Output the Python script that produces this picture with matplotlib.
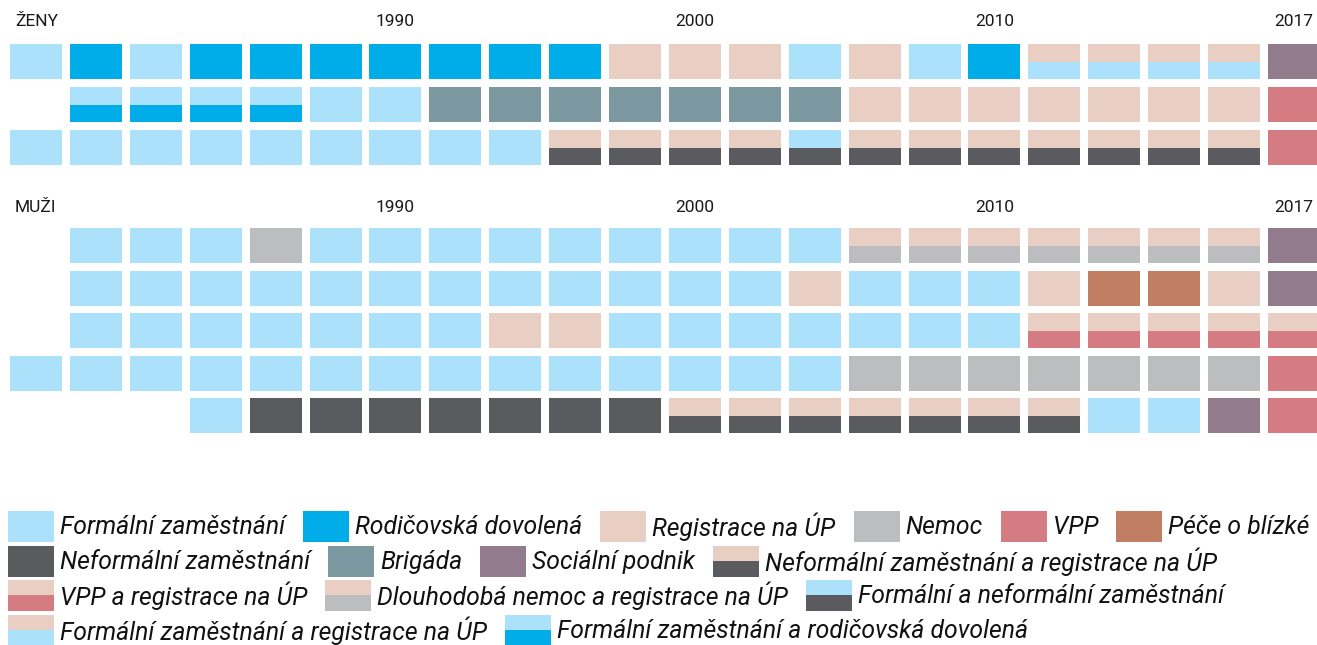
import matplotlib
matplotlib.use("Agg")
import matplotlib.pyplot as plt
from matplotlib.patches import Rectangle

plt.rcParams['font.family'] = ['Roboto', 'DejaVu Sans']

# category colours
colors = {
    'F': '#abe1fa',  # formální zaměstnání
    'R': '#00ade9',  # rodičovská dovolená
    'U': '#e9cfc3',  # registrace na ÚP
    'N': '#bcbdbf',  # nemoc
    'V': '#d47c81',  # VPP
    'P': '#c07f62',  # péče o blízké
    'I': '#5a5b5e',  # neformální zaměstnání
    'B': '#7c98a0',  # brigáda
    'S': '#937b8e',  # sociální podnik
}

# one row per person, one code per period; two letters = top / bottom half
zeny = [
    "F R F R R R R R R R U U U F U F R UF UF UF UF S",
    "- FR FR FR FR F F B B B B B B B U U U U U U U V",
    "F F F F F F F F F UI UI UI UI FI UI UI UI UI UI UI UI V",
]
muzi = [
    "- F F F N F F F F F F F F F UN UN UN UN UN UN UN S",
    "- F F F F F F F F F F F F U F F F U P P U S",
    "- F F F F F F F U U F F F F F F F UV UV UV UV UV",
    "F F F F F F F F F F F F F F N N N N N N N V",
    "- - - F I I I I I I I UI UI UI UI UI UI UI F F S V",
]
year_cols = [6, 11, 16, 21]
year_labels = ['1990', '2000', '2010', '2017']

legend_rows = [
    [('F', 'Formální zaměstnání'), ('R', 'Rodičovská dovolená'),
     ('U', 'Registrace na ÚP'), ('N', 'Nemoc'), ('V', 'VPP'), ('P', 'Péče o blízké')],
    [('I', 'Neformální zaměstnání'), ('B', 'Brigáda'), ('S', 'Sociální podnik'),
     ('UI', 'Neformální zaměstnání a registrace na ÚP')],
    [('UV', 'VPP a registrace na ÚP'), ('UN', 'Dlouhodobá nemoc a registrace na ÚP'),
     ('FI', 'Formální a neformální zaměstnání')],
    [('UF', 'Formální zaměstnání a registrace na ÚP'),
     ('FR', 'Formální zaměstnání a rodičovská dovolená')],
]

W, H = 1317, 645
fig = plt.figure(figsize=(W / 100, H / 100), dpi=100)
fig.patch.set_facecolor('white')

# grid axes: x in period units, y in pixels
ax = fig.add_axes([0, 0, 1, 1])
pitch = 59.9
ax.set_xlim(-36 / pitch, (W - 36) / pitch)
ax.set_ylim(H, 0)
ax.axis('off')

cell_w = 52 / pitch
cell_h = 35
top_h = 18


def draw_block(rows, first_top, row_pitch):
    for r, row in enumerate(rows):
        top = first_top + r * row_pitch
        for i, code in enumerate(row.split()):
            if code == '-':
                continue
            if len(code) == 1:
                ax.bar(i, cell_h, bottom=top, width=cell_w, color=colors[code], linewidth=0)
            else:
                ax.bar(i, top_h, bottom=top, width=cell_w, color=colors[code[0]], linewidth=0)
                ax.bar(i, cell_h - top_h, bottom=top + top_h, width=cell_w,
                       color=colors[code[1]], linewidth=0)


draw_block(zeny, 44, 43)
draw_block(muzi, 228, 42.5)

txt_col = '#1a1a1a'
for label, y in [('ŽENY', 22), ('MUŽI', 207)]:
    ax.text(-21 / pitch, y, label, fontsize=12.5, color=txt_col, va='center', ha='left')
    for c, yl in zip(year_cols, year_labels):
        ax.text(c, y, yl, fontsize=12.5, color=txt_col, va='center', ha='center')

# legend, flowed left to right in pixel units
lax = fig.add_axes([0, 0, 1, 1])
lax.set_xlim(0, W)
lax.set_ylim(H, 0)
lax.axis('off')
renderer = fig.canvas.get_renderer()

sw_w, sw_h = 46, 31
row_y = [526, 561, 595, 630]
for items, yc in zip(legend_rows, row_y):
    x = 8
    for code, text in items:
        if len(code) == 1:
            lax.add_patch(Rectangle((x, yc - sw_h / 2), sw_w, sw_h,
                                    color=colors[code], linewidth=0))
        else:
            lax.add_patch(Rectangle((x, yc - sw_h / 2), sw_w, sw_h / 2,
                                    color=colors[code[0]], linewidth=0))
            lax.add_patch(Rectangle((x, yc), sw_w, sw_h / 2,
                                    color=colors[code[1]], linewidth=0))
        t = lax.text(x + sw_w + 6, yc + 1, text, fontsize=17.8, style='italic',
                     color='#111111', va='center', ha='left')
        tw = t.get_window_extent(renderer).width
        x = x + sw_w + 6 + tw + 18

fig.savefig('out.png', dpi=100, facecolor='white')
